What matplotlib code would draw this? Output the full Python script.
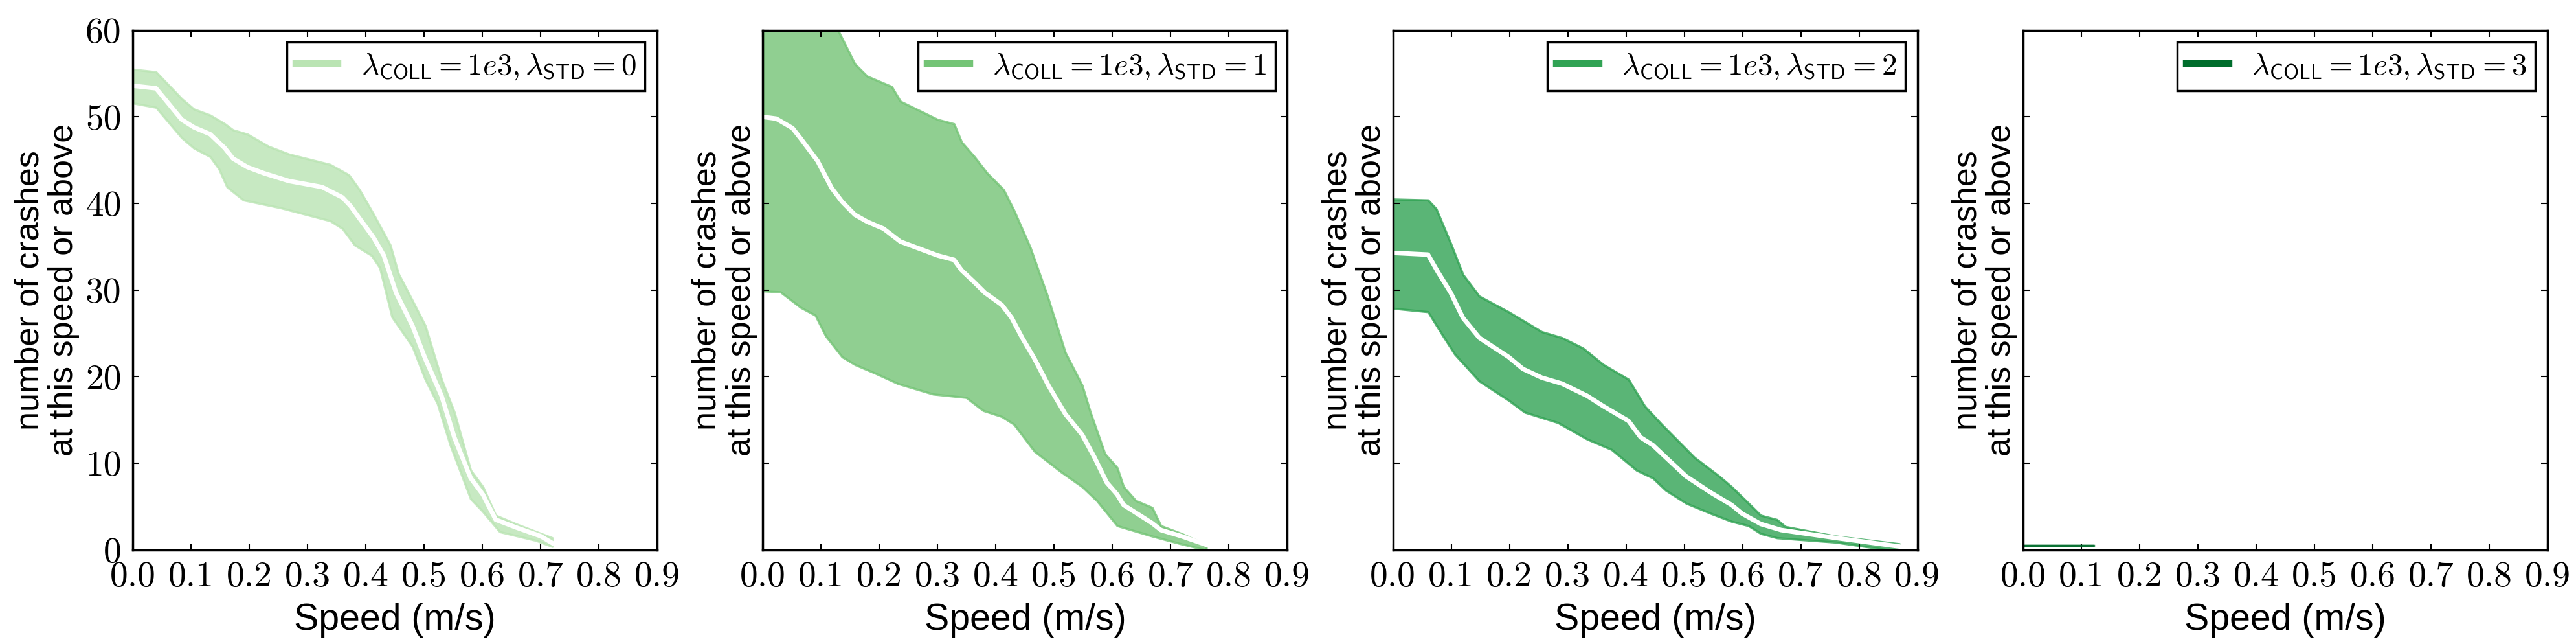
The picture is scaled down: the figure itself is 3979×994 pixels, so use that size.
import numpy as np
import matplotlib
matplotlib.use('Agg')
import matplotlib.pyplot as plt

plt.rcParams['mathtext.fontset'] = 'cm'
plt.rcParams['font.family'] = 'Liberation Sans'

colors = ['#bae4b3', '#74c476', '#31a354', '#006d2c']
std_levels = [0, 1, 2, 3]

# panel 1 (lambda_STD = 0)
x0_mean = [0.0, 0.04, 0.084, 0.105, 0.133, 0.158, 0.172, 0.197, 0.225, 0.268, 0.325, 0.36, 0.374, 0.389,
           0.413, 0.431, 0.452, 0.48, 0.502, 0.53, 0.552, 0.58, 0.601, 0.623, 0.658, 0.7, 0.72]
y0_mean = [53.6, 53.3, 49.7, 48.8, 48.0, 46.4, 45.2, 44.2, 43.5, 42.6, 41.9, 40.7, 39.7, 38.3,
           36.1, 34.0, 29.7, 25.9, 22.1, 17.8, 13.0, 8.3, 6.4, 3.5, 2.6, 1.6, 0.8]
x0_hi = [0.0, 0.04, 0.084, 0.105, 0.133, 0.158, 0.172, 0.197, 0.233, 0.268, 0.339, 0.371, 0.389, 0.413,
         0.442, 0.456, 0.48, 0.502, 0.53, 0.552, 0.58, 0.601, 0.623, 0.658, 0.72]
y0_hi = [55.5, 55.2, 52.1, 50.9, 50.2, 49.2, 48.5, 48.0, 46.6, 45.7, 44.5, 43.3, 41.6, 38.8,
         35.2, 31.9, 28.8, 25.9, 19.7, 15.9, 9.2, 7.3, 4.0, 3.0, 1.4]
x0_lo = [0.0, 0.04, 0.084, 0.105, 0.133, 0.148, 0.162, 0.19, 0.254, 0.339, 0.36, 0.381, 0.41, 0.424,
         0.445, 0.48, 0.502, 0.523, 0.545, 0.58, 0.6, 0.63, 0.692, 0.72]
y0_lo = [51.6, 51.1, 47.6, 46.4, 45.4, 44.0, 41.9, 40.4, 39.5, 38.0, 37.1, 35.2, 34.0, 32.6,
         26.9, 23.5, 19.7, 16.9, 12.1, 5.9, 4.5, 2.1, 1.1, 0.4]

# panel 2 (lambda_STD = 1)
x1_mean = [0.0, 0.023, 0.051, 0.065, 0.094, 0.118, 0.136, 0.158, 0.179, 0.207, 0.236, 0.264, 0.3, 0.328,
           0.341, 0.363, 0.381, 0.41, 0.427, 0.445, 0.466, 0.49, 0.519, 0.548, 0.569, 0.59, 0.608, 0.619,
           0.668, 0.683, 0.718, 0.761]
y1_mean = [50.0, 49.8, 48.7, 47.5, 44.9, 41.8, 40.2, 38.7, 37.9, 37.1, 35.6, 34.9, 34.0, 33.5,
           32.3, 30.9, 29.7, 28.3, 26.8, 24.5, 22.1, 19.0, 15.7, 13.3, 10.7, 7.8, 6.4, 5.2,
           3.1, 2.3, 1.6, 0.6]
x1_hi = [0.0, 0.05, 0.1, 0.129, 0.158, 0.179, 0.221, 0.236, 0.3, 0.328, 0.341, 0.363, 0.385, 0.413,
         0.431, 0.459, 0.488, 0.519, 0.548, 0.562, 0.587, 0.608, 0.619, 0.64, 0.668, 0.683, 0.718, 0.761]
y1_hi = [70.0, 67.0, 63.0, 60.0, 56.1, 54.7, 53.5, 51.8, 49.7, 49.2, 47.1, 45.4, 43.5, 41.6,
         39.2, 34.9, 29.4, 22.8, 19.0, 15.9, 11.1, 9.5, 7.3, 5.7, 4.9, 2.8, 1.9, 0.6]
x1_lo = [0.0, 0.03, 0.065, 0.09, 0.108, 0.136, 0.158, 0.193, 0.232, 0.292, 0.349, 0.378, 0.41, 0.431,
         0.466, 0.512, 0.548, 0.573, 0.608, 0.668, 0.718, 0.761]
y1_lo = [29.9, 29.8, 28.0, 27.1, 24.7, 22.3, 21.4, 20.4, 19.2, 18.0, 17.6, 16.1, 15.4, 14.5,
         11.4, 9.0, 7.3, 5.7, 2.8, 1.6, 0.7, 0.0]

# panel 3 (lambda_STD = 2)
x2_mean = [0.0, 0.06, 0.077, 0.099, 0.12, 0.148, 0.198, 0.223, 0.255, 0.29, 0.333, 0.361, 0.404, 0.425,
           0.446, 0.468, 0.503, 0.546, 0.581, 0.599, 0.631, 0.666, 0.759, 0.869]
y2_mean = [34.3, 34.1, 32.1, 29.7, 26.8, 24.5, 22.3, 20.9, 19.9, 19.2, 17.8, 16.6, 14.9, 13.0,
           12.1, 10.7, 8.5, 6.6, 5.2, 4.2, 3.0, 2.3, 1.4, 0.4]
x2_hi = [0.0, 0.06, 0.074, 0.099, 0.12, 0.148, 0.198, 0.255, 0.29, 0.326, 0.361, 0.404, 0.432, 0.461,
         0.489, 0.517, 0.56, 0.581, 0.61, 0.631, 0.659, 0.673, 0.759, 0.869]
y2_hi = [40.5, 40.4, 39.4, 35.4, 31.8, 29.3, 27.5, 25.2, 24.5, 23.3, 21.4, 19.7, 16.6, 14.5,
         12.6, 10.7, 8.5, 7.3, 5.4, 4.0, 3.5, 2.7, 1.6, 0.7]
x2_lo = [0.0, 0.06, 0.084, 0.106, 0.148, 0.198, 0.226, 0.283, 0.333, 0.375, 0.418, 0.446, 0.468, 0.503,
         0.546, 0.581, 0.61, 0.631, 0.659, 0.759, 0.851, 0.869]
y2_lo = [27.9, 27.5, 24.9, 22.6, 19.5, 17.3, 15.9, 14.7, 12.8, 11.6, 9.2, 8.3, 6.9, 5.4,
         4.2, 3.3, 2.8, 1.9, 1.4, 0.9, 0.0, 0.0]

# panel 4 (lambda_STD = 3)
x3_mean = [0.0, 0.121]
y3_mean = [0.5, 0.5]

panels = [
    (x0_mean, y0_mean, x0_hi, y0_hi, x0_lo, y0_lo),
    (x1_mean, y1_mean, x1_hi, y1_hi, x1_lo, y1_lo),
    (x2_mean, y2_mean, x2_hi, y2_hi, x2_lo, y2_lo),
    (x3_mean, y3_mean, x3_mean, y3_mean, x3_mean, y3_mean),
]

fig, axes = plt.subplots(1, 4, figsize=(15.916, 3.976), dpi=250, sharey=True)
fig.subplots_adjust(left=0.0515, right=0.989, bottom=0.146, top=0.953, wspace=0.2015)

xt = np.arange(0, 0.91, 0.1)
yt = np.arange(0, 61, 10)

for i, ax in enumerate(axes):
    xm, ym, xh, yh, xl, yl = panels[i]
    c = colors[i]
    xs = np.union1d(np.union1d(xm, xh), xl)
    hi = np.interp(xs, xh, yh)
    lo = np.interp(xs, xl, yl)
    ax.fill_between(xs, lo, hi, color=c, alpha=0.8, lw=1)
    if i < 3:
        ax.plot(xm, ym, color='white', lw=2.0)
    else:
        ax.plot(xm, ym, color=c, alpha=0.8, lw=1.0)
    ax.plot([], [], color=c, lw=3,
            label=r'$\lambda_{\mathsf{COLL}} = 1e3, \lambda_{\mathsf{STD}} = %d$' % std_levels[i])
    ax.set_xlim(0, 0.9)
    ax.set_ylim(0, 60)
    ax.set_xticks(xt)
    ax.set_yticks(yt)
    ax.set_xticklabels(['%.1f' % v for v in xt], fontfamily='cmr10', fontsize=16)
    ax.tick_params(direction='in', top=True, right=True, length=3, width=0.6, pad=5)
    if i == 0:
        ax.set_yticklabels([str(v) for v in yt], fontfamily='cmr10', fontsize=16)
    else:
        ax.tick_params(labelleft=False)
    for s in ax.spines.values():
        s.set_linewidth(1.0)
    ax.set_xlabel('Speed (m/s)', fontsize=16.5)
    ax.set_ylabel('number of crashes\nat this speed or above', fontsize=15, labelpad=2.5,
                  linespacing=1.1)
    leg = ax.legend(loc='upper right', borderaxespad=0.4,
                    fontsize=13.5, fancybox=False, framealpha=1, edgecolor='black',
                    handlelength=1.4, handletextpad=0.75, borderpad=0.3)
    leg.get_frame().set_linewidth(1.0)

fig.savefig('out.png', dpi=250)
